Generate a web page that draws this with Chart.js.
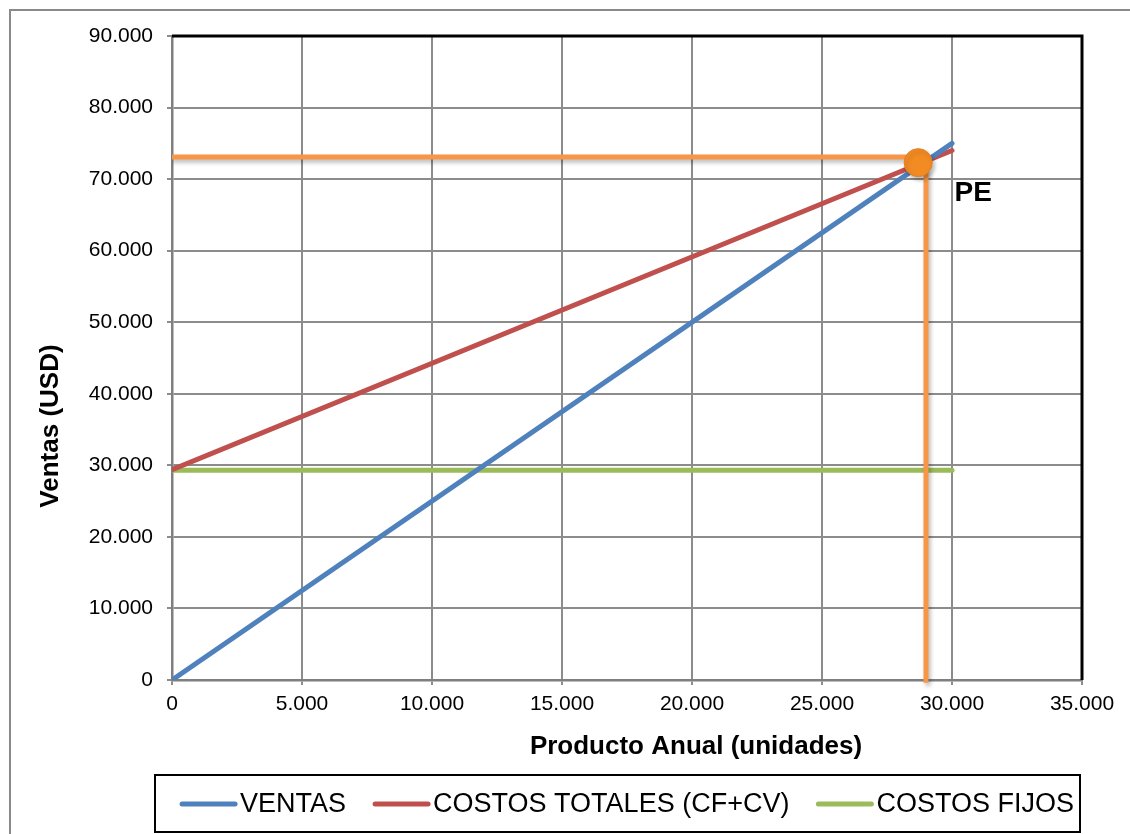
<!DOCTYPE html>
<html lang="es">
<head>
<meta charset="utf-8">
<title>Punto de equilibrio</title>
<script src="https://cdn.jsdelivr.net/npm/chart.js@4.4.1/dist/chart.umd.min.js"></script>
<style>
  html, body { margin: 0; padding: 0; background: #fff; }
  #wrap { position: relative; width: 1130px; height: 834px; }
</style>
</head>
<body>
<div id="wrap"><canvas id="grafico"></canvas></div>
<script>
// ===== DATOS =====
const unidades = [0, 30000];
const ventas = [0, 75000];
const costosTotales = [29400, 74000];
const costosFijos = [29300, 29300];

// punto de equilibrio y guias
const peX = 28700;
const peY = 72300;
const guiaHorizX = [0, 28700];
const guiaHorizY = [73100, 73100];
const guiaVertX = [29000, 29000];
const guiaVertY = [71500, -400];

const ticksX = [0, 5000, 10000, 15000, 20000, 25000, 30000, 35000];
const ticksY = [0, 10000, 20000, 30000, 40000, 50000, 60000, 70000, 80000, 90000];

const FUENTE = "'Liberation Sans', Arial, sans-serif";

function formato(v) {
  return String(v).replace(/\B(?=(\d{3})+(?!\d))/g, ".");
}
function pares(xs, ys) {
  return xs.map((x, i) => ({ x: x, y: ys[i] }));
}

// sombra para las guias naranjas
const sombra = {
  id: "sombra",
  beforeDatasetDraw(chart, args) {
    const ds = chart.data.datasets[args.index];
    if (!ds.sombra) return;
    const ctx = chart.ctx;
    ctx.save();
    ctx.shadowColor = "rgba(0,0,0,0.28)";
    ctx.shadowBlur = 4;
    ctx.shadowOffsetX = 2;
    ctx.shadowOffsetY = 3;
  },
  afterDatasetDraw(chart, args) {
    const ds = chart.data.datasets[args.index];
    if (!ds.sombra) return;
    chart.ctx.restore();
  }
};

// marco, titulos de ejes, etiqueta PE y leyenda
const extras = {
  id: "extras",
  beforeDraw(chart) {
    const ctx = chart.ctx;
    ctx.save();
    ctx.strokeStyle = "#8a8a8a";
    ctx.lineWidth = 2;
    ctx.strokeRect(10, 10, 1300, 1000);
    ctx.restore();
  },
  afterDraw(chart) {
    const ctx = chart.ctx;
    const a = chart.chartArea;
    const sx = chart.scales.x, sy = chart.scales.y;
    ctx.save();

    // borde negro arriba y derecha
    ctx.strokeStyle = "#000";
    ctx.lineWidth = 3;
    ctx.beginPath();
    ctx.moveTo(a.left, a.top);
    ctx.lineTo(a.right, a.top);
    ctx.lineTo(a.right, a.bottom);
    ctx.stroke();

    // titulos
    ctx.fillStyle = "#000";
    ctx.font = "bold 26px " + FUENTE;
    ctx.textAlign = "center";
    ctx.textBaseline = "middle";
    ctx.fillText("Producto Anual (unidades)", 696, 747);
    ctx.save();
    ctx.translate(51, 426);
    ctx.rotate(-Math.PI / 2);
    ctx.fillText("Ventas (USD)", 0, 0);
    ctx.restore();

    // PE
    ctx.font = "bold 28px " + FUENTE;
    ctx.textAlign = "left";
    ctx.fillText("PE", sx.getPixelForValue(30100), sy.getPixelForValue(68000));

    // leyenda
    ctx.strokeStyle = "#000";
    ctx.lineWidth = 2;
    ctx.strokeRect(155, 775, 925, 57);
    ctx.font = "27px " + FUENTE;
    const items = chart.data.datasets.filter(d => d.enLeyenda);
    const largo = 57, hueco = 3, sep = 27;
    let total = 0;
    items.forEach((d, i) => {
      total += largo + hueco + ctx.measureText(d.label).width + (i ? sep : 0);
    });
    let x = 627 - total / 2;
    const y = 804;
    items.forEach(d => {
      ctx.strokeStyle = d.borderColor;
      ctx.lineWidth = 5;
      ctx.lineCap = "round";
      ctx.beginPath();
      ctx.moveTo(x + 2, y);
      ctx.lineTo(x + largo - 2, y);
      ctx.stroke();
      x += largo + hueco;
      ctx.fillStyle = "#000";
      ctx.fillText(d.label, x, y + 1);
      x += ctx.measureText(d.label).width + sep;
    });
    ctx.restore();
  }
};

const linea = (label, color, xs, ys, extra) => Object.assign({
  label: label,
  data: pares(xs, ys),
  borderColor: color,
  backgroundColor: color,
  borderWidth: 5,
  borderCapStyle: "round",
  pointRadius: 0,
  showLine: true,
  tension: 0
}, extra || {});

const ctx = document.getElementById("grafico").getContext("2d");
new Chart(ctx, {
  type: "scatter",
  data: {
    datasets: [
      {
        label: "PE",
        data: [{ x: peX, y: peY }],
        pointRadius: 14,
        pointBackgroundColor: "#F38B23",
        pointBorderColor: "#E58020",
        pointBorderWidth: 1,
        showLine: false,
        sombra: true
      },
      linea("guiaH", "#F79646", guiaHorizX, guiaHorizY, { sombra: true, borderWidth: 5 }),
      linea("guiaV", "#F79646", guiaVertX, guiaVertY, { sombra: true, borderWidth: 5, clip: false, borderCapStyle: "butt" }),
      linea("VENTAS", "#4F81BD", unidades, ventas, { enLeyenda: true }),
      linea("COSTOS TOTALES (CF+CV)", "#C0504D", unidades, costosTotales, { enLeyenda: true }),
      linea("COSTOS FIJOS", "#9BBB59", unidades, costosFijos, { enLeyenda: true })
    ]
  },
  options: {
    responsive: true,
    maintainAspectRatio: false,
    animation: false,
    layout: { padding: { top: 36, right: 48, left: 0, bottom: 0 } },
    plugins: {
      legend: { display: false },
      tooltip: { enabled: false }
    },
    scales: {
      x: {
        type: "linear",
        min: 0,
        max: 35000,
        afterFit: s => { s.height = 154; },
        afterBuildTicks: s => { s.ticks = ticksX.map(v => ({ value: v })); },
        grid: { color: "#8c8c8c", lineWidth: 2, tickLength: 5 },
        border: { color: "#7f7f7f", width: 2.5 },
        ticks: {
          color: "#000",
          font: { family: FUENTE, size: 21 },
          padding: 7,
          maxRotation: 0,
          callback: v => formato(v)
        }
      },
      y: {
        min: 0,
        max: 90000,
        afterFit: s => { s.width = 172; },
        afterBuildTicks: s => { s.ticks = ticksY.map(v => ({ value: v })); },
        grid: { color: "#8c8c8c", lineWidth: 2, tickLength: 5 },
        border: { color: "#7f7f7f", width: 2.5 },
        ticks: {
          color: "#000",
          font: { family: FUENTE, size: 21 },
          padding: 14,
          callback: v => formato(v)
        }
      }
    }
  },
  plugins: [sombra, extras]
});
</script>
</body>
</html>
